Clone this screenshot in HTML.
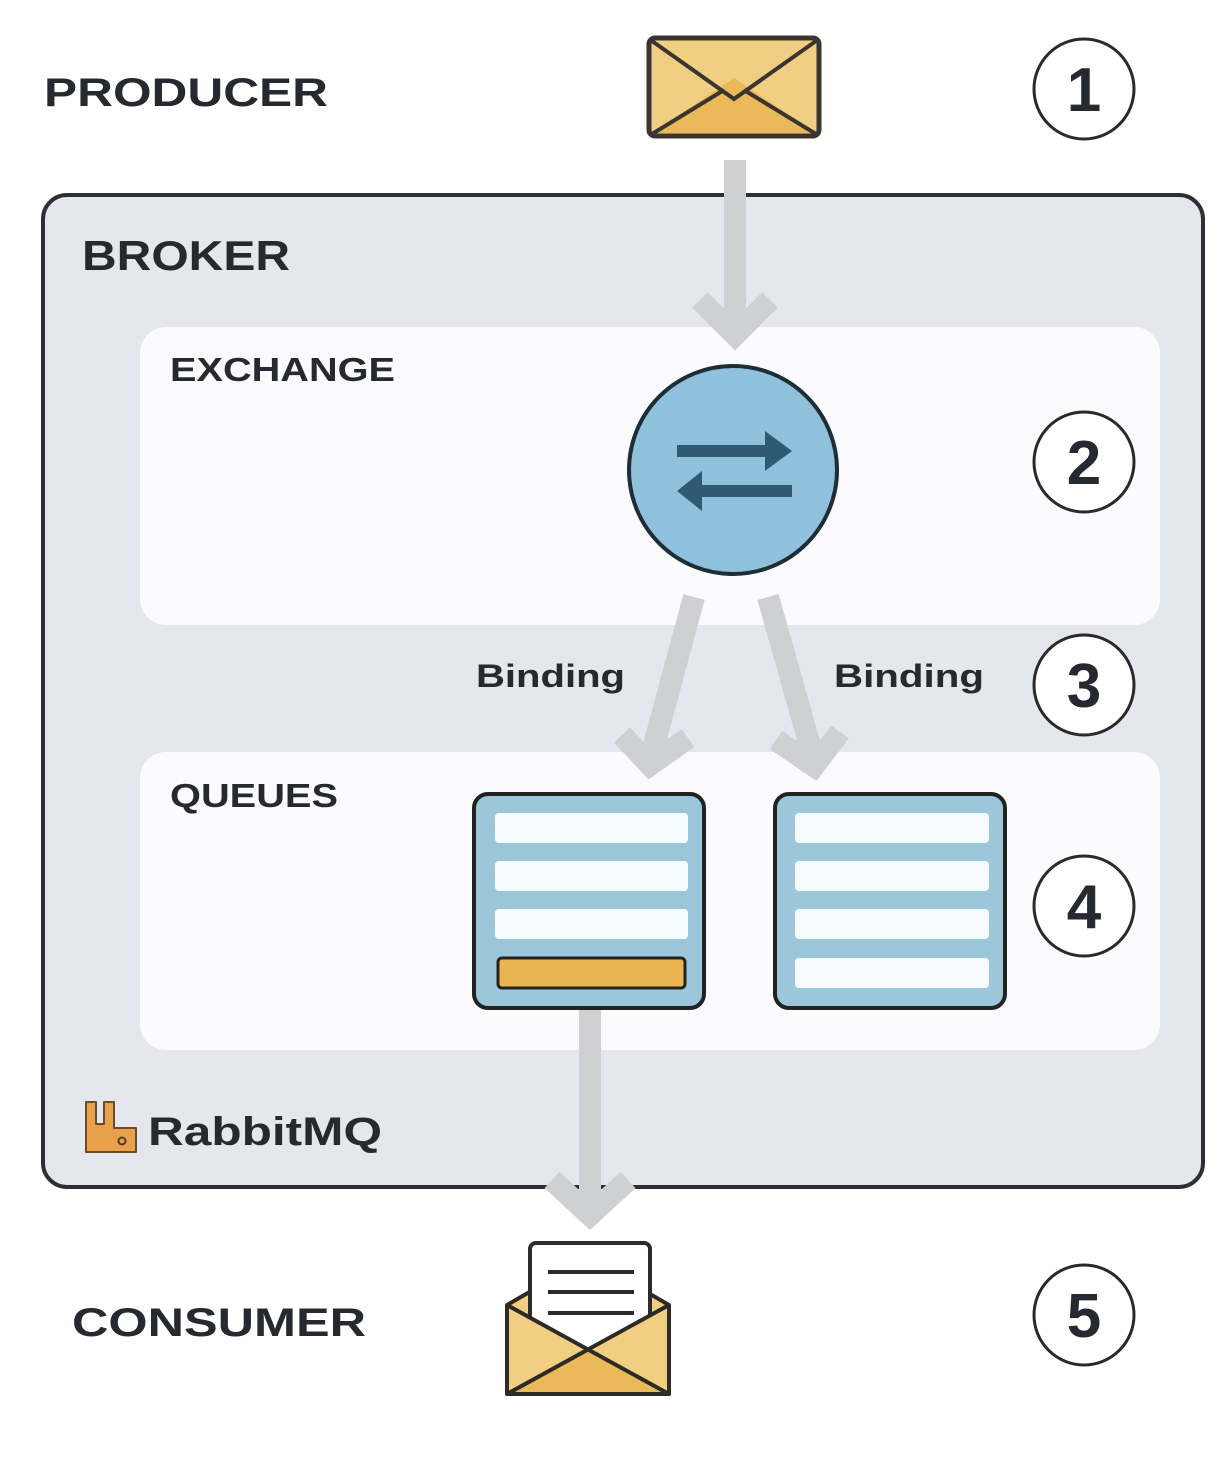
<!DOCTYPE html>
<html><head><meta charset="utf-8"><style>
html,body{margin:0;padding:0;background:#fff;}
svg{display:block;}
text{font-family:"Liberation Sans",sans-serif;font-weight:bold;fill:#262a30;}
</style></head><body>
<svg width="1230" height="1462" viewBox="0 0 1230 1462" xmlns="http://www.w3.org/2000/svg">
<rect x="0" y="0" width="1230" height="1462" fill="#ffffff"/>
<text x="44" y="106" font-size="40" textLength="284" lengthAdjust="spacingAndGlyphs">PRODUCER</text>
<!-- envelope top -->
<rect x="649" y="38" width="170" height="98" rx="6" fill="#f0cf82" stroke="#3a3530" stroke-width="5"/>
<polygon points="652,133 734,78 816,133" fill="#eab95a"/>
<polyline points="652,41 734,99 816,41" fill="none" stroke="#3a3530" stroke-width="4"/>
<line x1="652" y1="134" x2="724" y2="90" stroke="#3a3530" stroke-width="4"/>
<line x1="816" y1="134" x2="744" y2="90" stroke="#3a3530" stroke-width="4"/>
<!-- broker -->
<rect x="43" y="195" width="1160" height="992" rx="24" fill="#e4e7ee" stroke="#2d2f33" stroke-width="4"/>
<text x="82" y="270" font-size="42" textLength="208" lengthAdjust="spacingAndGlyphs">BROKER</text>
<rect x="140" y="327" width="1020" height="298" rx="26" fill="#fbfbfd"/>
<rect x="140" y="752" width="1020" height="298" rx="26" fill="#fbfbfd"/>
<text x="170" y="381" font-size="33" textLength="225" lengthAdjust="spacingAndGlyphs">EXCHANGE</text>
<text x="170" y="807" font-size="33" textLength="168" lengthAdjust="spacingAndGlyphs">QUEUES</text>
<!-- gray arrows -->
<g stroke="#cfd0d2" stroke-width="22" fill="none" stroke-linecap="butt" stroke-linejoin="miter">
<line x1="735" y1="160" x2="735" y2="335"/>
<polyline points="700,300 735,335 770,300"/>
<line x1="694" y1="597" x2="650" y2="760"/>
<polyline points="622,735 650,765 688,738"/>
<line x1="768" y1="597" x2="814" y2="760"/>
<polyline points="776,740 814,766 840,732"/>
<line x1="590" y1="1010" x2="590" y2="1210"/>
<polyline points="552,1180 590,1215 628,1180"/>
</g>
<!-- exchange circle -->
<circle cx="733" cy="470" r="104" fill="#8fc1dd" stroke="#1f2d36" stroke-width="4"/>
<g fill="#2f5a72">
<rect x="677" y="445" width="90" height="12"/>
<polygon points="765,431 792,451 765,471"/>
<rect x="700" y="485" width="92" height="12"/>
<polygon points="702,471 677,491 702,511"/>
</g>
<text x="476" y="687" font-size="32" textLength="149" lengthAdjust="spacingAndGlyphs">Binding</text>
<text x="834" y="687" font-size="32" textLength="150" lengthAdjust="spacingAndGlyphs">Binding</text>
<!-- queues -->
<rect x="474" y="794" width="230" height="214" rx="14" fill="#9cc6da" stroke="#222" stroke-width="4"/>
<rect x="495" y="813" width="193" height="30" rx="4" fill="#f6fcff"/>
<rect x="495" y="861" width="193" height="30" rx="4" fill="#f6fcff"/>
<rect x="495" y="909" width="193" height="30" rx="4" fill="#f6fcff"/>
<rect x="498" y="958" width="187" height="30" rx="4" fill="#e9b552" stroke="#222" stroke-width="3"/>
<rect x="775" y="794" width="230" height="214" rx="14" fill="#9cc6da" stroke="#222" stroke-width="4"/>
<rect x="795" y="813" width="194" height="30" rx="4" fill="#f6fcff"/>
<rect x="795" y="861" width="194" height="30" rx="4" fill="#f6fcff"/>
<rect x="795" y="909" width="194" height="30" rx="4" fill="#f6fcff"/>
<rect x="795" y="958" width="194" height="30" rx="4" fill="#f6fcff"/>
<!-- rabbitmq logo -->
<path d="M86,1152 L86,1102 L96,1102 L96,1124 L104,1124 L104,1102 L114,1102 L114,1128 L136,1128 L136,1152 Z" fill="#e8a04a" stroke="#6b4a2a" stroke-width="2" stroke-linejoin="round"/>
<circle cx="122" cy="1141" r="3.5" fill="none" stroke="#5a3a20" stroke-width="2"/>
<text x="148" y="1145" font-size="40" textLength="234" lengthAdjust="spacingAndGlyphs">RabbitMQ</text>
<!-- consumer -->
<text x="72" y="1336" font-size="40" textLength="294" lengthAdjust="spacingAndGlyphs">CONSUMER</text>
<polygon points="507,1305 545,1283 631,1283 669,1305 669,1394 507,1394" fill="#f0cf82" stroke="#2d2a27" stroke-width="4" stroke-linejoin="round"/>
<rect x="530" y="1243" width="120" height="130" rx="6" fill="#ffffff" stroke="#2d2a27" stroke-width="4"/>
<g stroke="#2d2a27" stroke-width="4">
<line x1="548" y1="1272" x2="634" y2="1272"/>
<line x1="548" y1="1292" x2="634" y2="1292"/>
<line x1="548" y1="1313" x2="634" y2="1313"/>
</g>
<polygon points="507,1305 588,1350 669,1305 669,1394 507,1394" fill="#f0cf82"/>
<polygon points="509,1394 588,1350 669,1394" fill="#eab95a"/>
<line x1="507" y1="1305" x2="669" y2="1394" stroke="#2d2a27" stroke-width="4"/>
<line x1="669" y1="1305" x2="507" y2="1394" stroke="#2d2a27" stroke-width="4"/>
<polyline points="507,1305 507,1394 669,1394 669,1305" fill="none" stroke="#2d2a27" stroke-width="4" stroke-linejoin="round"/>
<!-- numbers -->
<g fill="#fff" stroke="#2a2a2a" stroke-width="3">
<circle cx="1084" cy="89" r="50"/>
<circle cx="1084" cy="462" r="50"/>
<circle cx="1084" cy="685" r="50"/>
<circle cx="1084" cy="906" r="50"/>
<circle cx="1084" cy="1315" r="50"/>
</g>
<g font-size="62" text-anchor="middle">
<text x="1084" y="111">1</text>
<text x="1084" y="484">2</text>
<text x="1084" y="707">3</text>
<text x="1084" y="928">4</text>
<text x="1084" y="1337">5</text>
</g>
</svg>
</body></html>
